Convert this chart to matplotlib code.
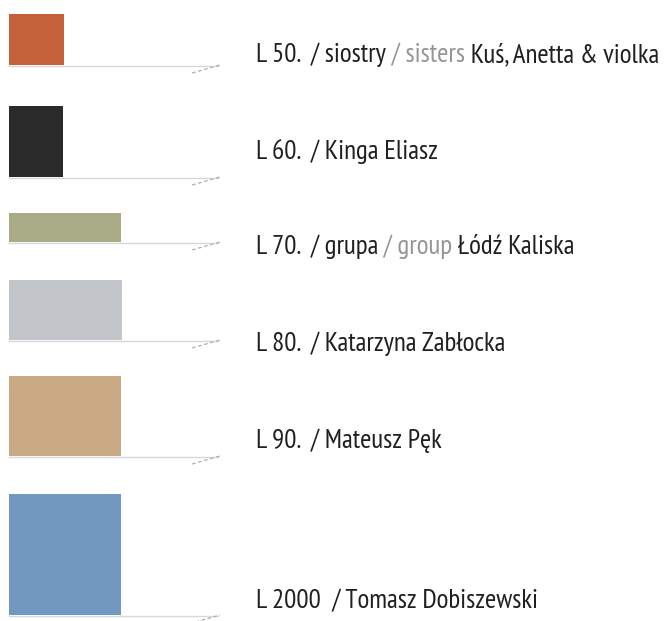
import matplotlib.pyplot as plt

# bar sizes (pixels)
bar_widths = [55, 54, 112, 113, 112, 112]
bar_heights = [51, 71, 29, 60, 80, 121]
colors = ['#c4603a', '#2b2a2b', '#a9ab86', '#c2c5c9', '#c9aa84', '#7398bf']
years = ['L 50.', 'L 60.', 'L 70.', 'L 80.', 'L 90.', 'L 2000']
label_a = ['/ siostry', '/ Kinga Eliasz', '/ grupa', '/ Katarzyna Zabłocka',
           '/ Mateusz Pęk', '/ Tomasz Dobiszewski']
label_en = ['/ sisters', '', '/ group', '', '', '']
label_b = ['Kuś, Anetta & violka', '', 'Łódź Kaliska', '', '', '']

baselines = [65, 177, 242, 340, 456, 615]
text_base = [62, 159, 254, 351, 448, 608]

plt.rcParams['font.family'] = ['PT Sans Narrow', 'Open Sans', 'DejaVu Sans']

fig = plt.figure(figsize=(6.68, 6.21), dpi=100)
ax = fig.add_axes([0, 0, 1, 1])
ax.set_xlim(0, 668)
ax.set_ylim(621, 0)
ax.axis('off')

dark = '#231f20'
grey = '#939598'
fs = 19.5
for i in range(6):
    b = baselines[i]
    ax.bar(9, -bar_heights[i], width=bar_widths[i], bottom=b, align='edge',
           color=colors[i], linewidth=0)
    ax.plot([9, 218], [b + 0.5, b + 0.5], color='#d6d7d9', lw=1.0)
    ax.plot([192, 220], [b + 8, b], color='#aeafb1', lw=0.9, ls=(0, (3, 2)))

    t = ax.text(256, text_base[i], years[i] + '  ' + label_a[i], color=dark,
                fontsize=fs, va='baseline')
    if label_en[i]:
        t2 = ax.annotate(' ' + label_en[i], xy=(1, 0), xycoords=t,
                         va='bottom', color=grey, fontsize=fs)
        ax.annotate(' ' + label_b[i], xy=(1, 0), xycoords=t2,
                    va='bottom', color=dark, fontsize=fs)

fig.savefig('out.png', dpi=100)
